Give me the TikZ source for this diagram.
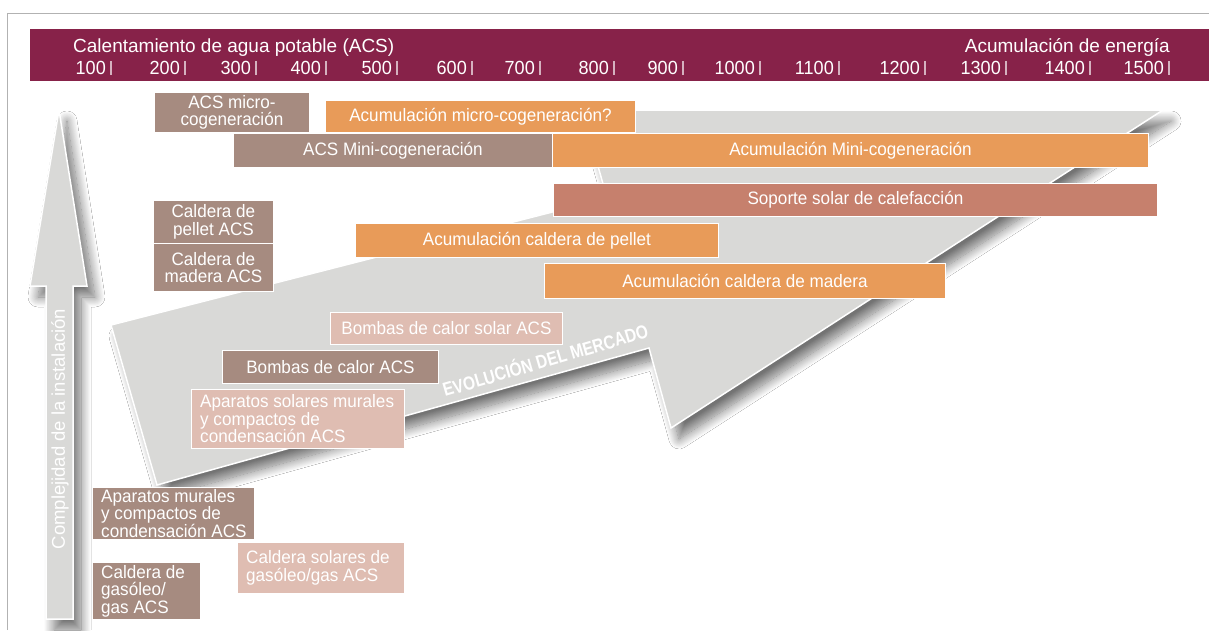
\documentclass[tikz,border=0pt]{standalone}
\usepackage{fontspec}
\setmainfont{Liberation Sans}
\newfontfamily\cond{Liberation Sans}[FakeStretch=0.95]
\newfontfamily\condb{Liberation Sans}[FakeStretch=0.82]
\usetikzlibrary{shadows.blur}
\definecolor{maroon}{RGB}{135,34,73}
\definecolor{brownbox}{RGB}{166,139,128}
\definecolor{orangebox}{RGB}{232,155,89}
\definecolor{terrabox}{RGB}{198,128,109}
\definecolor{pinkbox}{RGB}{223,189,178}
\definecolor{arrowgray}{RGB}{217,217,215}
\definecolor{framegray}{RGB}{178,178,178}
\newcommand{\mybx}[7]{%
  \pgfmathsetmacro\bw{#5-#3}%
  \pgfmathsetmacro\bh{#6-#4}%
  \node[#2, minimum width=\bw pt, minimum height=\bh pt, anchor=north west] (#1) at (#3,#4) {#7};%
}
\newcommand{\mylbx}[7]{%
  \pgfmathsetmacro\bw{#5-#3}%
  \pgfmathsetmacro\bh{#6-#4}%
  \node[#2, minimum width=\bw pt, minimum height=\bh pt, anchor=north west] (#1) at (#3,#4) {};%
  \node[boxtext, anchor=west, align=left] (#1t) at ([xshift=9pt]#1.west) {#7};%
}
\newcommand{\mytick}[3]{%
  \node[numtext, anchor=base east] (#1) at (#2-5,74) {#3};%
  \draw[tickline] (#2,61) -- (#2,75);%
}
\tikzset{
  boxtext/.style={inner sep=0pt, text=white, font=\cond\fontsize{18}{17.5}\selectfont},
  boxbase/.style={draw=white, line width=0.9pt, inner sep=0pt, text=white, align=center,
    font=\cond\fontsize{18}{17.5}\selectfont},
  brn/.style={boxbase, fill=brownbox},
  org/.style={boxbase, fill=orangebox},
  ter/.style={boxbase, fill=terrabox},
  pnk/.style={boxbase, fill=pinkbox},
  numtext/.style={text=white, inner sep=0pt, font=\cond\fontsize{19}{19}\selectfont},
  tickline/.style={draw=white, draw opacity=0.65, line width=1.1pt},
  bigarrow/.style={fill=arrowgray, draw=white, line width=1.5pt, line join=miter,
    blur shadow={shadow xshift=8pt, shadow yshift=-11pt, shadow blur radius=10pt, shadow blur steps=16, shadow opacity=55}},
}
\begin{document}
\begin{tikzpicture}[x=1pt,y=-1pt]
\useasboundingbox (0,0) rectangle (1209,630);
\fill[white] (0,0) rectangle (1209,630);
% frame
\draw[framegray, line width=1pt] (7,630) -- (7,13) -- (1209,13);
% banner
\fill[maroon] (30,29) rectangle (1209,81);
\node[text=white, inner sep=0pt, anchor=base west, font=\fontsize{19}{19}\selectfont] (tleft) at (73,52) {Calentamiento de agua potable (ACS)};
\node[text=white, inner sep=0pt, anchor=base east, font=\fontsize{19}{19}\selectfont] (tright) at (1170,52) {Acumulación de energía};
\mytick{n1}{111}{100}
\mytick{n2}{185}{200}
\mytick{n3}{256}{300}
\mytick{n4}{326}{400}
\mytick{n5}{397}{500}
\mytick{n6}{472}{600}
\mytick{n7}{540}{700}
\mytick{n8}{614}{800}
\mytick{n9}{683}{900}
\mytick{n10}{760}{1000}
\mytick{n11}{839}{1100}
\mytick{n12}{925}{1200}
\mytick{n13}{1006}{1300}
\mytick{n14}{1090}{1400}
\mytick{n15}{1169}{1500}
% big market arrow
\path[bigarrow] (157,485) -- (111,325) -- (607,198) -- (582,110) -- (1163,110) -- (671,428) -- (649,348) -- cycle;
% vertical arrow
\path[bigarrow] (59,110) -- (87,286) -- (73,286) -- (73,619) -- (46,619) -- (46,286) -- (30,286) -- cycle;
\node[rotate=90, text=white, inner sep=0pt, font=\fontsize{18.5}{18.5}\selectfont] (vtext) at (60,429) {Complejidad de la instalación};
\node[rotate=16.3, anchor=base west, inner sep=0pt, text=white, font=\condb\bfseries\fontsize{19}{19}\selectfont] (evo) at (445,397) {EVOLUCIÓN DEL MERCADO};
% boxes
\mybx{b1}{brn}{154}{92}{309}{132}{ACS micro-\\cogeneración}
\mybx{b2}{org}{325}{100}{635}{132}{Acumulación micro-cogeneración?}
\mybx{b3}{brn}{233}{133}{552}{167}{ACS Mini-cogeneración}
\mybx{b4}{org}{552}{133}{1148}{167}{Acumulación Mini-cogeneración}
\mybx{b5}{ter}{553}{183}{1157}{216}{Soporte solar de calefacción}
\mybx{b6}{brn}{153}{200}{273}{243}{Caldera de\\pellet ACS}
\mybx{b7}{brn}{153}{243}{273}{291}{Caldera de\\madera ACS}
\mybx{b8}{org}{355}{223}{718}{257}{Acumulación caldera de pellet}
\mybx{b9}{org}{544}{263}{945}{298}{Acumulación caldera de madera}
\mybx{b10}{pnk}{330}{312}{562}{344}{Bombas de calor solar ACS}
\mybx{b11}{brn}{222}{350}{438}{383}{Bombas de calor ACS}
\mylbx{b12}{pnk}{191}{389}{404}{448}{Aparatos solares murales\\y compactos de\\condensación ACS}
\mylbx{b13}{brn}{92}{487}{254}{539}{Aparatos murales\\y compactos de\\condensación ACS}
\mylbx{b14}{pnk}{237}{542}{404}{593}{Caldera solares de\\gasóleo/gas ACS}
\mylbx{b15}{brn}{92}{562}{200}{619}{Caldera de\\gasóleo/\\gas ACS}
\end{tikzpicture}
\end{document}
